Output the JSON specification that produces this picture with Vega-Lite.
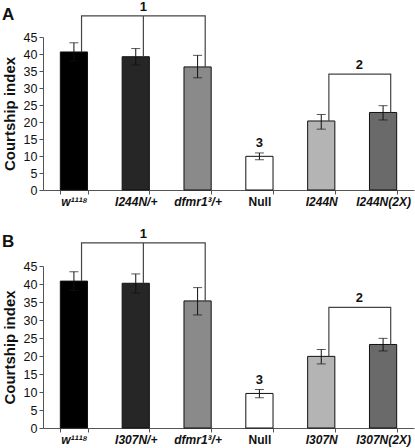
{
  "$schema": "https://vega.github.io/schema/vega-lite/v6.json",
  "background": "white",
  "padding": {"left": 2, "top": 0, "right": 2, "bottom": 2},
  "config": {
    "font": "Liberation Sans",
    "view": {"stroke": null},
    "axis": {"labelFont": "Liberation Sans", "titleFont": "Liberation Sans", "labelColor": "#111", "titleColor": "#111", "domainColor": "#555", "tickColor": "#555", "grid": false, "tickSize": 4},
    "axisX": {"labelAngle": 0, "labelFontSize": 12, "labelFontWeight": "bold", "tickBand": "extent", "labelPadding": 2},
    "axisY": {"titleFontSize": 15, "titleFontWeight": "bold", "titlePadding": 6, "labelOverlap": false, "labelFontSize": 12.5},
    "title": {"font": "Liberation Sans", "fontSize": 17, "fontWeight": "bold", "anchor": "start", "frame": "bounds", "color": "#111"}
  },
  "datasets": {
    "bars": [
      {"panel": "A", "genotype": "w¹¹¹⁸", "mean": 40.6, "lo": 37.9, "hi": 43.3},
      {"panel": "A", "genotype": "I244N/+", "mean": 39.2, "lo": 36.8, "hi": 41.6},
      {"panel": "A", "genotype": "dfmr1³/+", "mean": 36.2, "lo": 33.0, "hi": 39.6},
      {"panel": "A", "genotype": "Null", "mean": 9.9, "lo": 8.9, "hi": 10.9},
      {"panel": "A", "genotype": "I244N", "mean": 20.3, "lo": 17.9, "hi": 22.2},
      {"panel": "A", "genotype": "I244N(2X)", "mean": 22.8, "lo": 20.6, "hi": 24.8},
      {"panel": "B", "genotype": "w¹¹¹⁸", "mean": 40.8, "lo": 38.2, "hi": 43.4},
      {"panel": "B", "genotype": "I307N/+", "mean": 40.2, "lo": 37.5, "hi": 42.8},
      {"panel": "B", "genotype": "dfmr1³/+", "mean": 35.3, "lo": 31.4, "hi": 39.0},
      {"panel": "B", "genotype": "Null", "mean": 9.6, "lo": 8.4, "hi": 10.7},
      {"panel": "B", "genotype": "I307N", "mean": 19.9, "lo": 17.8, "hi": 21.8},
      {"panel": "B", "genotype": "I307N(2X)", "mean": 23.2, "lo": 21.4, "hi": 24.9}
    ],
    "brackets": [
      {"panel": "A", "seg": "a1", "o": 1, "genotype": "w¹¹¹⁸", "v": 40.6},
      {"panel": "A", "seg": "a1", "o": 2, "genotype": "w¹¹¹⁸", "v": 51.2},
      {"panel": "A", "seg": "a1", "o": 3, "genotype": "dfmr1³/+", "v": 51.2},
      {"panel": "A", "seg": "a1", "o": 4, "genotype": "dfmr1³/+", "v": 36.2},
      {"panel": "A", "seg": "a1m", "o": 1, "genotype": "I244N/+", "v": 51.2},
      {"panel": "A", "seg": "a1m", "o": 2, "genotype": "I244N/+", "v": 39.2},
      {"panel": "A", "seg": "a2", "o": 1, "genotype": "I244N", "v": 20.3},
      {"panel": "A", "seg": "a2", "o": 2, "genotype": "I244N", "v": 34.1},
      {"panel": "A", "seg": "a2", "o": 3, "genotype": "I244N(2X)", "v": 34.1},
      {"panel": "A", "seg": "a2", "o": 4, "genotype": "I244N(2X)", "v": 22.8},
      {"panel": "B", "seg": "b1", "o": 1, "genotype": "w¹¹¹⁸", "v": 40.8},
      {"panel": "B", "seg": "b1", "o": 2, "genotype": "w¹¹¹⁸", "v": 51.4},
      {"panel": "B", "seg": "b1", "o": 3, "genotype": "dfmr1³/+", "v": 51.4},
      {"panel": "B", "seg": "b1", "o": 4, "genotype": "dfmr1³/+", "v": 35.3},
      {"panel": "B", "seg": "b1m", "o": 1, "genotype": "I307N/+", "v": 51.4},
      {"panel": "B", "seg": "b1m", "o": 2, "genotype": "I307N/+", "v": 40.2},
      {"panel": "B", "seg": "b2", "o": 1, "genotype": "I307N", "v": 19.9},
      {"panel": "B", "seg": "b2", "o": 2, "genotype": "I307N", "v": 33.5},
      {"panel": "B", "seg": "b2", "o": 3, "genotype": "I307N(2X)", "v": 33.5},
      {"panel": "B", "seg": "b2", "o": 4, "genotype": "I307N(2X)", "v": 23.2}
    ],
    "marks": [
      {"panel": "A", "genotype": "I244N/+", "v": 51.2, "label": "1", "pos": "leg"},
      {"panel": "A", "genotype": "Null", "v": 11.4, "label": "3", "pos": "center"},
      {"panel": "A", "genotype": "I244N", "v": 34.1, "label": "2", "pos": "mid"},
      {"panel": "B", "genotype": "I307N/+", "v": 51.4, "label": "1", "pos": "leg"},
      {"panel": "B", "genotype": "Null", "v": 11.2, "label": "3", "pos": "center"},
      {"panel": "B", "genotype": "I307N", "v": 33.5, "label": "2", "pos": "mid"}
    ]
  },
  "vconcat": [
    {
      "title": {"text": "A", "offset": -23},
      "width": 371,
      "height": 153,
      "layer": [
        {
          "data": {"name": "bars"},
          "transform": [{"filter": "datum.panel == 'A'"}],
          "mark": {"type": "bar", "stroke": "#111", "strokeWidth": 1},
          "encoding": {
            "x": {"field": "genotype", "type": "nominal", "sort": null, "title": null,
              "scale": {"domain": ["w¹¹¹⁸", "I244N/+", "dfmr1³/+", "Null", "I244N", "I244N(2X)"], "paddingInner": 0.56, "paddingOuter": 0.28},
              "axis": {"labelFontStyle": {"condition": {"test": "datum.label == 'Null'", "value": "normal"}, "value": "italic"}}},
            "y": {"field": "mean", "type": "quantitative", "title": "Courtship index",
              "scale": {"domain": [0, 45], "nice": false},
              "axis": {"values": [0, 5, 10, 15, 20, 25, 30, 35, 40, 45]}},
            "fill": {"field": "genotype", "type": "nominal", "legend": null,
              "scale": {"domain": ["w¹¹¹⁸", "I244N/+", "dfmr1³/+", "Null", "I244N", "I244N(2X)"],
                "range": ["#000000", "#262626", "#8a8a8a", "#ffffff", "#b4b4b4", "#6a6a6a"]}}
          }
        },
        {
          "data": {"name": "bars"},
          "transform": [{"filter": "datum.panel == 'A'"}],
          "mark": {"type": "errorbar", "ticks": {"size": 9}, "color": "#111", "thickness": 1},
          "encoding": {
            "x": {"field": "genotype", "type": "nominal", "sort": null, "title": null,
              "axis": {"labelFontStyle": {"condition": {"test": "datum.label == 'Null'", "value": "normal"}, "value": "italic"}}},
            "y": {"field": "lo", "type": "quantitative", "title": "Courtship index",
              "axis": {"values": [0, 5, 10, 15, 20, 25, 30, 35, 40, 45]}},
            "y2": {"field": "hi"}
          }
        },
        {
          "data": {"name": "brackets"},
          "transform": [{"filter": "datum.panel == 'A'"}],
          "mark": {"type": "line", "color": "#444", "strokeWidth": 1.2},
          "encoding": {
            "x": {"field": "genotype", "type": "nominal", "sort": null, "bandPosition": 0.78, "title": null,
              "axis": {"labelFontStyle": {"condition": {"test": "datum.label == 'Null'", "value": "normal"}, "value": "italic"}}},
            "y": {"field": "v", "type": "quantitative", "title": "Courtship index",
              "axis": {"values": [0, 5, 10, 15, 20, 25, 30, 35, 40, 45]}},
            "detail": {"field": "seg"},
            "order": {"field": "o"}
          }
        },
        {
          "data": {"name": "marks"},
          "transform": [{"filter": "datum.panel == 'A' && datum.pos == 'leg'"}],
          "mark": {"type": "text", "fontSize": 13, "fontWeight": "bold", "baseline": "bottom", "dy": -2, "color": "#111"},
          "encoding": {
            "x": {"field": "genotype", "type": "nominal", "sort": null, "bandPosition": 0.78, "title": null,
              "axis": {"labelFontStyle": {"condition": {"test": "datum.label == 'Null'", "value": "normal"}, "value": "italic"}}},
            "y": {"field": "v", "type": "quantitative", "title": "Courtship index",
              "axis": {"values": [0, 5, 10, 15, 20, 25, 30, 35, 40, 45]}},
            "text": {"field": "label"}
          }
        },
        {
          "data": {"name": "marks"},
          "transform": [{"filter": "datum.panel == 'A' && datum.pos == 'center'"}],
          "mark": {"type": "text", "fontSize": 13, "fontWeight": "bold", "baseline": "bottom", "dy": -1, "color": "#111"},
          "encoding": {
            "x": {"field": "genotype", "type": "nominal", "sort": null, "title": null,
              "axis": {"labelFontStyle": {"condition": {"test": "datum.label == 'Null'", "value": "normal"}, "value": "italic"}}},
            "y": {"field": "v", "type": "quantitative", "title": "Courtship index",
              "axis": {"values": [0, 5, 10, 15, 20, 25, 30, 35, 40, 45]}},
            "text": {"field": "label"}
          }
        },
        {
          "data": {"name": "marks"},
          "transform": [{"filter": "datum.panel == 'A' && datum.pos == 'mid'"}],
          "mark": {"type": "text", "fontSize": 13, "fontWeight": "bold", "baseline": "bottom", "dy": -2, "color": "#111"},
          "encoding": {
            "x": {"field": "genotype", "type": "nominal", "sort": null, "bandPosition": 1.9, "title": null,
              "axis": {"labelFontStyle": {"condition": {"test": "datum.label == 'Null'", "value": "normal"}, "value": "italic"}}},
            "y": {"field": "v", "type": "quantitative", "title": "Courtship index",
              "axis": {"values": [0, 5, 10, 15, 20, 25, 30, 35, 40, 45]}},
            "text": {"field": "label"}
          }
        }
      ]
    },
    {
      "title": {"text": "B", "offset": -23},
      "width": 371,
      "height": 162,
      "layer": [
        {
          "data": {"name": "bars"},
          "transform": [{"filter": "datum.panel == 'B'"}],
          "mark": {"type": "bar", "stroke": "#111", "strokeWidth": 1},
          "encoding": {
            "x": {"field": "genotype", "type": "nominal", "sort": null, "title": null,
              "scale": {"domain": ["w¹¹¹⁸", "I307N/+", "dfmr1³/+", "Null", "I307N", "I307N(2X)"], "paddingInner": 0.56, "paddingOuter": 0.28},
              "axis": {"labelFontStyle": {"condition": {"test": "datum.label == 'Null'", "value": "normal"}, "value": "italic"}}},
            "y": {"field": "mean", "type": "quantitative", "title": "Courtship index",
              "scale": {"domain": [0, 45], "nice": false},
              "axis": {"values": [0, 5, 10, 15, 20, 25, 30, 35, 40, 45]}},
            "fill": {"field": "genotype", "type": "nominal", "legend": null,
              "scale": {"domain": ["w¹¹¹⁸", "I307N/+", "dfmr1³/+", "Null", "I307N", "I307N(2X)"],
                "range": ["#000000", "#262626", "#8a8a8a", "#ffffff", "#b4b4b4", "#6a6a6a"]}}
          }
        },
        {
          "data": {"name": "bars"},
          "transform": [{"filter": "datum.panel == 'B'"}],
          "mark": {"type": "errorbar", "ticks": {"size": 9}, "color": "#111", "thickness": 1},
          "encoding": {
            "x": {"field": "genotype", "type": "nominal", "sort": null, "title": null,
              "axis": {"labelFontStyle": {"condition": {"test": "datum.label == 'Null'", "value": "normal"}, "value": "italic"}}},
            "y": {"field": "lo", "type": "quantitative", "title": "Courtship index",
              "axis": {"values": [0, 5, 10, 15, 20, 25, 30, 35, 40, 45]}},
            "y2": {"field": "hi"}
          }
        },
        {
          "data": {"name": "brackets"},
          "transform": [{"filter": "datum.panel == 'B'"}],
          "mark": {"type": "line", "color": "#444", "strokeWidth": 1.2},
          "encoding": {
            "x": {"field": "genotype", "type": "nominal", "sort": null, "bandPosition": 0.78, "title": null,
              "axis": {"labelFontStyle": {"condition": {"test": "datum.label == 'Null'", "value": "normal"}, "value": "italic"}}},
            "y": {"field": "v", "type": "quantitative", "title": "Courtship index",
              "axis": {"values": [0, 5, 10, 15, 20, 25, 30, 35, 40, 45]}},
            "detail": {"field": "seg"},
            "order": {"field": "o"}
          }
        },
        {
          "data": {"name": "marks"},
          "transform": [{"filter": "datum.panel == 'B' && datum.pos == 'leg'"}],
          "mark": {"type": "text", "fontSize": 13, "fontWeight": "bold", "baseline": "bottom", "dy": -2, "color": "#111"},
          "encoding": {
            "x": {"field": "genotype", "type": "nominal", "sort": null, "bandPosition": 0.78, "title": null,
              "axis": {"labelFontStyle": {"condition": {"test": "datum.label == 'Null'", "value": "normal"}, "value": "italic"}}},
            "y": {"field": "v", "type": "quantitative", "title": "Courtship index",
              "axis": {"values": [0, 5, 10, 15, 20, 25, 30, 35, 40, 45]}},
            "text": {"field": "label"}
          }
        },
        {
          "data": {"name": "marks"},
          "transform": [{"filter": "datum.panel == 'B' && datum.pos == 'center'"}],
          "mark": {"type": "text", "fontSize": 13, "fontWeight": "bold", "baseline": "bottom", "dy": -1, "color": "#111"},
          "encoding": {
            "x": {"field": "genotype", "type": "nominal", "sort": null, "title": null,
              "axis": {"labelFontStyle": {"condition": {"test": "datum.label == 'Null'", "value": "normal"}, "value": "italic"}}},
            "y": {"field": "v", "type": "quantitative", "title": "Courtship index",
              "axis": {"values": [0, 5, 10, 15, 20, 25, 30, 35, 40, 45]}},
            "text": {"field": "label"}
          }
        },
        {
          "data": {"name": "marks"},
          "transform": [{"filter": "datum.panel == 'B' && datum.pos == 'mid'"}],
          "mark": {"type": "text", "fontSize": 13, "fontWeight": "bold", "baseline": "bottom", "dy": -2, "color": "#111"},
          "encoding": {
            "x": {"field": "genotype", "type": "nominal", "sort": null, "bandPosition": 1.9, "title": null,
              "axis": {"labelFontStyle": {"condition": {"test": "datum.label == 'Null'", "value": "normal"}, "value": "italic"}}},
            "y": {"field": "v", "type": "quantitative", "title": "Courtship index",
              "axis": {"values": [0, 5, 10, 15, 20, 25, 30, 35, 40, 45]}},
            "text": {"field": "label"}
          }
        }
      ]
    }
  ],
  "spacing": 20,
  "resolve": {"scale": {"fill": "independent"}}
}
